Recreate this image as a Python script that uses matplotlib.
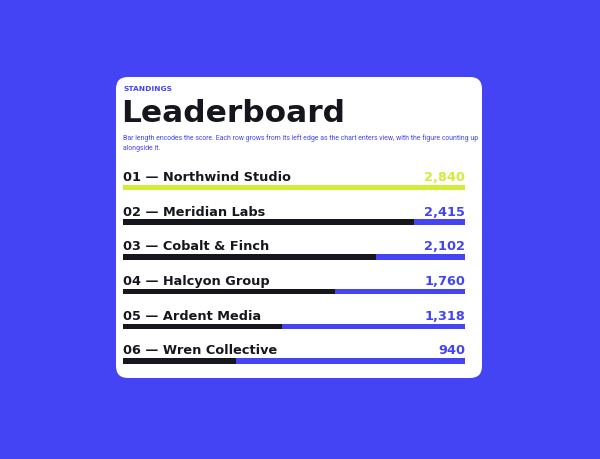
import matplotlib
matplotlib.use("Agg")
import matplotlib.pyplot as plt
from matplotlib.patches import FancyBboxPatch

# данные
teams = ["Northwind Studio", "Meridian Labs", "Cobalt & Finch",
         "Halcyon Group", "Ardent Media", "Wren Collective"]
scores = [2840, 2415, 2102, 1760, 1318, 940]

BLUE = "#4444F4"
DARK = "#16161E"
LIME = "#D2EC3A"
W, H = 600, 460

fig = plt.figure(figsize=(6, 4.6), dpi=100, facecolor=BLUE)

# фон + карточка, в пикселях
bg = fig.add_axes([0, 0, 1, 1])
bg.set_xlim(0, W)
bg.set_ylim(H, 0)
bg.axis("off")
card = FancyBboxPatch((116 + 12, 78 + 12), 366 - 24, 301 - 24,
                      boxstyle="round,pad=12", facecolor="white",
                      edgecolor="none")
bg.add_patch(card)

bg.text(123, 89, "STANDINGS", color=BLUE, fontsize=5.4, fontweight="bold",
        va="center", ha="left")
bg.text(121, 122, "Leaderboard", color=DARK, fontsize=22.5, fontweight="bold",
        va="baseline", ha="left")
bg.text(123, 138, "Bar length encodes the score. Each row grows from its left edge as the chart enters view, with the figure counting up",
        color=BLUE, fontsize=4.95, family="Roboto", va="center", ha="left")
bg.text(123, 149, "alongside it.", color=BLUE, fontsize=4.95, family="Roboto",
        va="center", ha="left")

# строки с полосами
row = 34.7
top_c = 188.5
y0 = top_c - 0.5 * row
y1 = top_c + 5.5 * row
ax = fig.add_axes([123 / W, 1 - y1 / H, 342 / W, (y1 - y0) / H])
ax.set_xlim(0, max(scores))
ax.set_ylim(len(teams) - 0.5, -0.5)
ax.axis("off")

ypos = list(range(len(teams)))
bh = 5.5 / row
ax.barh(ypos, [max(scores)] * len(teams), height=bh, color=BLUE)
ax.barh(ypos, scores, height=bh,
        color=[LIME if i == 0 else DARK for i in ypos])

for i, (t, s) in enumerate(zip(teams, scores)):
    ax.text(0, i - 7.6 / row, f"{i + 1:02d} — {t}", color=DARK, fontsize=9.3,
            fontweight="bold", va="baseline", ha="left", clip_on=False)
    ax.text(max(scores), i - 7.6 / row, f"{s:,}", color=LIME if i == 0 else BLUE,
            fontsize=9.3, fontweight="bold", va="baseline", ha="right",
            clip_on=False)

fig.savefig("out.png", dpi=100, facecolor=BLUE)
